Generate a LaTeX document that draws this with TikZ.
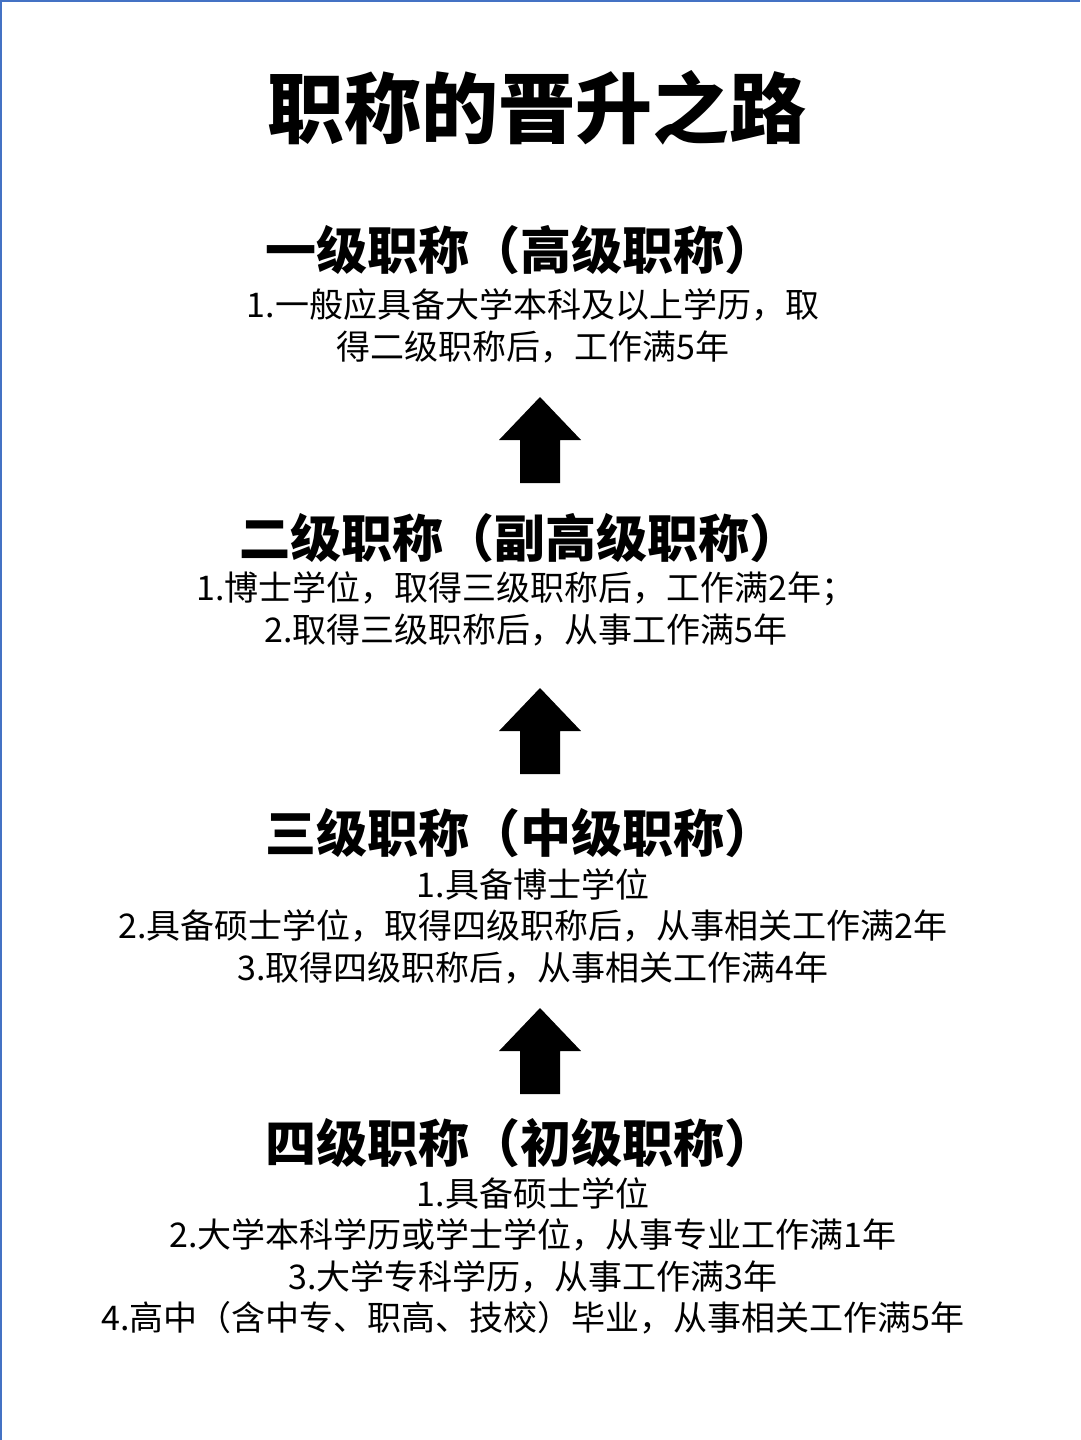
\documentclass[tikz,border=0pt]{standalone}
\usepackage{fontspec}
\newfontfamily\cjk{Noto Sans CJK SC}
\begin{document}
\begin{tikzpicture}[x=1pt,y=-1pt,
  ttl/.style={font=\cjk\bfseries\fontsize{77}{85}\selectfont},
  hd/.style={font=\cjk\bfseries\fontsize{51}{58}\selectfont},
  bd/.style={font=\cjk\fontsize{34}{41.5}\selectfont,align=center},
  uparr/.style={fill=black}]
\useasboundingbox (0,0) rectangle (1080,1440);
\fill[white] (0,0) rectangle (1080,1440);
\draw[color={rgb,255:red,68;green,114;blue,196},line width=1.5] (0.75,0.75) -- (0.75,1440) (0,0.75) -- (1080,0.75);
\node[ttl] (title) at (537,108) {职称的晋升之路};
\node[hd] (h1) at (520,250) {一级职称（高级职称）};
\node[bd] (b1) at (533,326) {1.一般应具备大学本科及以上学历，取\\得二级职称后，工作满5年};
\node[hd] (h2) at (520,538) {二级职称（副高级职称）};
\node[bd] (b2) at (526,609) {1.博士学位，取得三级职称后，工作满2年；\\2.取得三级职称后，从事工作满5年};
\node[hd] (h3) at (520,833) {三级职称（中级职称）};
\node[bd] (b3) at (533,926) {1.具备博士学位\\2.具备硕士学位，取得四级职称后，从事相关工作满2年\\3.取得四级职称后，从事相关工作满4年};
\node[hd] (h4) at (520,1143) {四级职称（初级职称）};
\node[bd] (b4) at (533,1256) {1.具备硕士学位\\2.大学本科学历或学士学位，从事专业工作满1年\\3.大学专科学历，从事工作满3年\\4.高中（含中专、职高、技校）毕业，从事相关工作满5年};
\foreach \t in {397,688,1008}{
  \fill[uparr] (540,\t) -- (581,\t+43) -- (560,\t+43) -- (560,\t+86) -- (520,\t+86) -- (520,\t+43) -- (499,\t+43) -- cycle;
}
\end{tikzpicture}
\end{document}
